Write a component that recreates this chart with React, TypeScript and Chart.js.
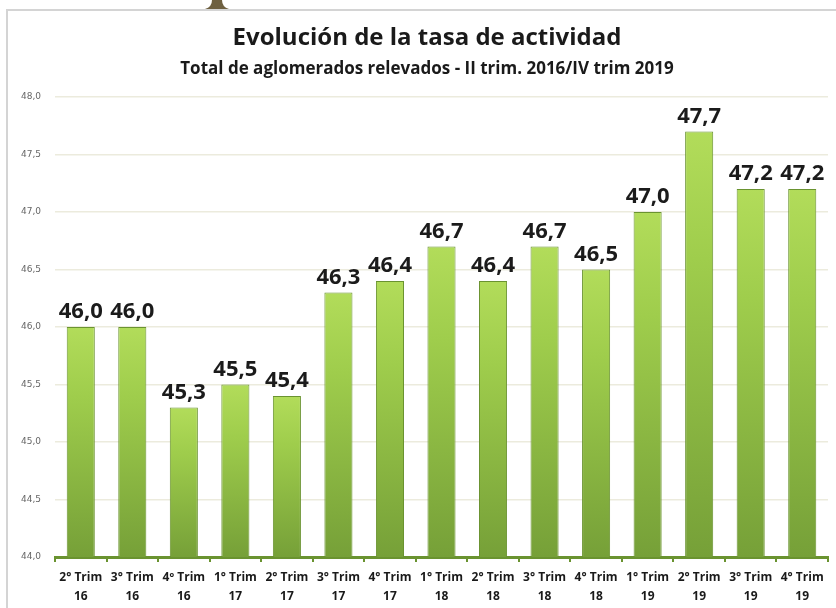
import { useEffect, useRef } from "react";
import { Chart, registerables } from "chart.js";

Chart.register(...registerables);

const titleText = "Evolución de la tasa de actividad";
const subtitleText = "Total de aglomerados relevados - II trim. 2016/IV trim 2019";
const quarterLabels = ["2° Trim", "3° Trim", "4º Trim", "1° Trim", "2° Trim", "3° Trim", "4° Trim", "1° Trim", "2° Trim", "3° Trim", "4° Trim", "1° Trim", "2° Trim", "3° Trim", "4° Trim"];
const yearLabels = ["16", "16", "16", "17", "17", "17", "17", "18", "18", "18", "18", "19", "19", "19", "19"];
const tasaValues = [46.0, 46.0, 45.3, 45.5, 45.4, 46.3, 46.4, 46.7, 46.4, 46.7, 46.5, 47.0, 47.7, 47.2, 47.2];
const yMin = 44;
const yMax = 48;
const yStep = 0.5;

const FONT = "'Open Sans', 'DejaVu Sans', sans-serif";
const fmt = (v: number) => v.toFixed(1).replace(".", ",");

const framePlugin = {
  id: "frame",
  beforeDraw(chart: any) {
    const ctx = chart.ctx;
    ctx.save();
    ctx.fillStyle = "#ffffff";
    ctx.fillRect(0, 0, chart.width, chart.height);
    ctx.strokeStyle = "#d4d4d4";
    ctx.lineWidth = 2;
    ctx.beginPath();
    ctx.moveTo(7, chart.height);
    ctx.lineTo(7, 10);
    ctx.lineTo(chart.width, 10);
    ctx.stroke();
    // decorative brown base at top
    ctx.fillStyle = "#6e6040";
    ctx.beginPath();
    ctx.moveTo(212, 0);
    ctx.lineTo(222, 0);
    ctx.quadraticCurveTo(222, 7, 229, 9);
    ctx.lineTo(205, 9);
    ctx.quadraticCurveTo(212, 7, 212, 0);
    ctx.closePath();
    ctx.fill();
    ctx.restore();
  },
  afterDraw(chart: any) {
    const ctx = chart.ctx;
    ctx.save();
    ctx.fillStyle = "#1a1a1a";
    ctx.textAlign = "center";
    ctx.textBaseline = "middle";
    ctx.font = `bold 24px ${FONT}`;
    ctx.fillText(titleText, 427, 38);
    ctx.font = `bold 17px ${FONT}`;
    ctx.fillText(subtitleText, 427, 69);
    ctx.restore();
  },
};

const labelPlugin = {
  id: "valueLabels",
  afterDatasetsDraw(chart: any) {
    const ctx = chart.ctx;
    const meta = chart.getDatasetMeta(0);
    ctx.save();
    ctx.font = `bold 22px ${FONT}`;
    ctx.fillStyle = "#1b1b1b";
    ctx.textAlign = "center";
    ctx.textBaseline = "bottom";
    meta.data.forEach((el: any, i: number) => {
      ctx.fillText(fmt(tasaValues[i]), el.x, el.y - 4);
    });
    ctx.restore();
  },
};

export default function App() {
  const ref = useRef<HTMLCanvasElement | null>(null);

  useEffect(() => {
    if (!ref.current) return;
    const chart = new Chart(ref.current, {
      type: "bar",
      data: {
        labels: quarterLabels.map((q, i) => [q, yearLabels[i]]),
        datasets: [
          {
            data: tasaValues,
            backgroundColor: (c: any) => {
              const chart = c.chart;
              const ys = chart.scales && chart.scales.y;
              if (!ys || c.raw === undefined) return "#94c447";
              const top = ys.getPixelForValue(c.raw);
              const bottom = ys.getPixelForValue(yMin);
              if (!isFinite(top) || !isFinite(bottom) || top === bottom) return "#94c447";
              const g = chart.ctx.createLinearGradient(0, top, 0, bottom);
              g.addColorStop(0, "#b2dc5a");
              g.addColorStop(0.3, "#9fcd4c");
              g.addColorStop(1, "#76a038");
              return g;
            },
            borderColor: "#6a9330",
            borderWidth: 1,
            barPercentage: 0.545,
            categoryPercentage: 1,
          },
        ],
      },
      options: {
        responsive: false,
        animation: false,
        layout: { padding: { left: 14, right: 8, top: 97, bottom: 2 } },
        plugins: {
          legend: { display: false },
          tooltip: { enabled: false },
          title: { display: false },
          subtitle: { display: false },
        },
        scales: {
          x: {
            grid: {
              display: true,
              drawOnChartArea: false,
              drawTicks: true,
              tickLength: 5,
              color: "#6a9330",
              lineWidth: 2,
            },
            border: { display: true, color: "#6a9330", width: 3 },
            ticks: {
              color: "#1a1a1a",
              font: { family: FONT, size: 12, weight: "bold", lineHeight: 1.6 },
              padding: 6,
              maxRotation: 0,
              autoSkip: false,
            },
            afterFit(scale: any) {
              scale.height = 49;
            },
          },
          y: {
            min: yMin,
            max: yMax,
            grid: { color: "#ecebdd", lineWidth: 1.5, drawTicks: false },
            border: { display: false },
            ticks: {
              stepSize: yStep,
              color: "#666666",
              font: { family: "'DejaVu Sans', sans-serif", size: 9 },
              padding: 14,
              callback: (v: any) => fmt(Number(v)),
            },
            afterFit(scale: any) {
              scale.width = 41;
            },
          },
        },
      },
      plugins: [framePlugin, labelPlugin],
    });
    return () => chart.destroy();
  }, []);

  return (
    <div style={{ position: "absolute", left: 0, top: 0, width: 836, height: 608, background: "#fff" }}>
      <canvas ref={ref} width={836} height={608} style={{ display: "block" }} />
    </div>
  );
}
